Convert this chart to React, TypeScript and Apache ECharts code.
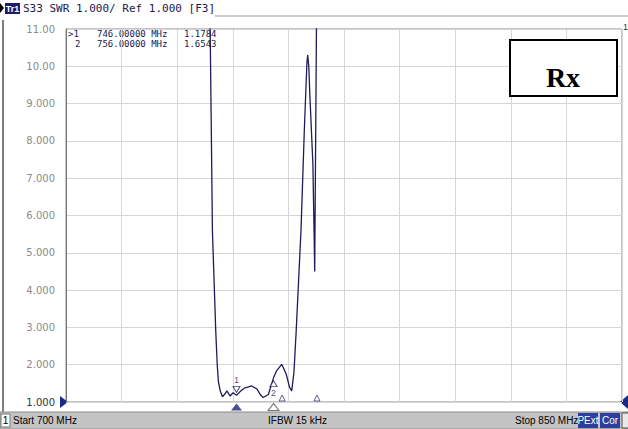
import React, { useEffect, useRef } from "react";
import * as echarts from "echarts";

// ---- data ----
const startFreq = 700;
const stopFreq = 850;
const freqMHz = [700, 738.5, 738.9, 739.2, 739.5, 740.4, 740.8, 741.1, 741.6, 742.2, 742.9, 743.4, 744.3, 745.1, 746.0, 747.2, 748.3, 750.1, 751.5, 752.4, 753.2, 754.6, 756.0, 756.9, 758.2, 759.4, 760.3, 760.9, 761.5, 762.1, 763.4, 764.3, 765.0, 765.2, 765.5, 765.8, 766.6, 767.0, 767.1, 767.6, 768.0, 850];
const swr = [14, 11.6, 10.9, 8.3, 5.6, 2.9, 2.0, 1.56, 1.3, 1.14, 1.22, 1.3, 1.16, 1.25, 1.1784, 1.3, 1.38, 1.43, 1.35, 1.2, 1.12, 1.2, 1.6543, 1.85, 2.01, 1.75, 1.4, 1.3, 1.8, 2.9, 5.6, 8.3, 10.1, 10.3, 10.0, 9.2, 7.4, 5.1, 4.5, 11.5, 14, 14];
const markerFreqs = [746, 756];
const markerValues = [1.1784, 1.6543];
const markerFreqText = ["746.00000 MHz", "756.00000 MHz"];
const markerValText = ["1.1784", "1.6543"];
const smallMarkerFreqs = [758.3, 767.7];
const yMin = 1;
const yMax = 11;

const TRACE = "#1c1c5a";
const BLUE = "#1a237e";

function yLabel(v: number) {
  return v >= 10 ? v.toFixed(2) : v.toFixed(3);
}

export default function App() {
  const ref = useRef<HTMLDivElement>(null);
  useEffect(() => {
    const chart = echarts.init(ref.current!, null, { renderer: "svg" });
    const traceData = freqMHz.map((f, i) => [f - startFreq, swr[i]]);
    const mono = "DejaVu Sans Mono";
    const sans = "Liberation Sans";
    const option: any = {
      animation: false,
      backgroundColor: "#ffffff",
      grid: { left: 66, right: 6, top: 29, bottom: 27, show: true, borderColor: "#8a8a8a", borderWidth: 1, backgroundColor: "#fff" },
      xAxis: {
        type: "value",
        min: 0,
        max: stopFreq - startFreq,
        interval: 15,
        axisLabel: { show: false },
        axisTick: { show: false },
        axisLine: { show: false },
        splitLine: { show: true, lineStyle: { color: "#d6d6d6", width: 1 } },
      },
      yAxis: {
        type: "value",
        min: yMin,
        max: yMax,
        interval: 1,
        axisLabel: {
          formatter: (v: number) => yLabel(v),
          color: (v: any) => (Number(v) === 1 ? "#333" : "#8a8a8a"),
          fontSize: 10,
          fontFamily: "DejaVu Sans",
          margin: 11,
        },
        axisTick: { show: false },
        axisLine: { show: true, lineStyle: { color: "#777", width: 1 } },
        splitLine: { show: true, lineStyle: { color: "#d6d6d6", width: 1 } },
      },
      series: [
        {
          type: "line",
          data: traceData,
          showSymbol: false,
          clip: true,
          lineStyle: { color: TRACE, width: 1.3 },
          z: 3,
        },
        {
          type: "scatter",
          clip: false,
          data: [[markerFreqs[0] - startFreq, markerValues[0]]],
          symbol: "triangle",
          symbolRotate: 180,
          symbolSize: [7, 6],
          symbolOffset: [0, -6],
          itemStyle: { color: "#fff", borderColor: TRACE, borderWidth: 1 },
          label: { show: true, formatter: "1", position: "top", distance: 1, fontSize: 9, color: TRACE, fontFamily: sans },
          z: 4,
        },
        {
          type: "scatter",
          clip: false,
          data: [[markerFreqs[1] - startFreq, markerValues[1]]],
          symbol: "triangle",
          symbolSize: [7, 6],
          symbolOffset: [0, 6],
          itemStyle: { color: "#fff", borderColor: TRACE, borderWidth: 1 },
          label: { show: true, formatter: "2", position: "bottom", distance: 1, fontSize: 9, color: TRACE, fontFamily: sans },
          z: 4,
        },
        {
          type: "scatter",
          clip: false,
          data: [[markerFreqs[0] - startFreq, yMin]],
          symbol: "triangle",
          symbolSize: [11, 7],
          symbolOffset: [0, 5],
          itemStyle: { color: BLUE },
          z: 4,
        },
        {
          type: "scatter",
          clip: false,
          data: [[markerFreqs[1] - startFreq, yMin]],
          symbol: "triangle",
          symbolSize: [11, 7],
          symbolOffset: [0, 5],
          itemStyle: { color: "#fff", borderColor: "#555", borderWidth: 1 },
          z: 4,
        },
        {
          type: "scatter",
          clip: false,
          data: smallMarkerFreqs.map((f) => [f - startFreq, yMin]),
          symbol: "triangle",
          symbolSize: [6, 6],
          symbolOffset: [0, -4],
          itemStyle: { color: "#fff", borderColor: "#3a3a7a", borderWidth: 1 },
          z: 4,
        },
      ],
      graphic: [
        // header
        { type: "polygon", shape: { points: [[0, 3], [4, 8], [0, 13]] }, style: { fill: "#000" } },
        { type: "rect", shape: { x: 5, y: 3, width: 15, height: 11 }, style: { fill: "#1c1c6e" } },
        { type: "text", x: 12.5, y: 8.5, style: { text: "Tr1", fill: "#fff", font: "bold 9px " + sans, align: "center", verticalAlign: "middle" } },
        { type: "text", x: 23, y: 8.5, style: { text: "S33 SWR 1.000/ Ref 1.000 [F3]", fill: "#202050", font: "11px " + mono, verticalAlign: "middle" } },
        { type: "line", shape: { x1: 215, y1: 16, x2: 628, y2: 16 }, style: { stroke: "#9a9a9a", lineWidth: 1 } },
        // frame
        { type: "line", shape: { x1: 3, y1: 20, x2: 3, y2: 412 }, style: { stroke: "#555", lineWidth: 1.5 } },
        // readout
        { type: "text", x: 68, y: 34, style: { text: ">1", fill: "#202050", font: "9px " + mono, verticalAlign: "middle" } },
        { type: "text", x: 97, y: 34, style: { text: markerFreqText[0], fill: "#202050", font: "9px " + mono, verticalAlign: "middle" } },
        { type: "text", x: 184, y: 34, style: { text: markerValText[0], fill: "#202050", font: "9px " + mono, verticalAlign: "middle" } },
        { type: "text", x: 75, y: 44, style: { text: "2", fill: "#202050", font: "9px " + mono, verticalAlign: "middle" } },
        { type: "text", x: 97, y: 44, style: { text: markerFreqText[1], fill: "#202050", font: "9px " + mono, verticalAlign: "middle" } },
        { type: "text", x: 184, y: 44, style: { text: markerValText[1], fill: "#202050", font: "9px " + mono, verticalAlign: "middle" } },
        // ref-level markers
        { type: "text", x: 623, y: 27, style: { text: "1", fill: "#333", font: "9px " + sans, verticalAlign: "middle" } },
        { type: "polygon", shape: { points: [[60, 396], [68, 402], [60, 408]] }, style: { fill: "#1a2a8a" } },
        { type: "polygon", shape: { points: [[628, 395], [620, 402], [628, 409]] }, style: { fill: "#1a2a8a" } },
        // Rx box
        { type: "rect", shape: { x: 510, y: 40, width: 107, height: 56 }, style: { fill: "#fff", stroke: "#000", lineWidth: 2 }, z: 10 },
        { type: "text", x: 563, y: 77, style: { text: "Rx", fill: "#000", font: "bold 28px 'Liberation Serif'", align: "center", verticalAlign: "middle" }, z: 11 },
        // status bar
        { type: "rect", shape: { x: 0, y: 412, width: 628, height: 17 }, style: { fill: "#c4c4c4", stroke: "#8a8a8a", lineWidth: 1 } },
        { type: "rect", shape: { x: 1, y: 414, width: 9, height: 13 }, style: { fill: "#fff", stroke: "#777", lineWidth: 1 } },
        { type: "text", x: 5.5, y: 420.5, style: { text: "1", fill: "#000", font: "10px " + sans, align: "center", verticalAlign: "middle" } },
        { type: "text", x: 13, y: 420.5, style: { text: "Start 700 MHz", fill: "#000", font: "10px " + sans, verticalAlign: "middle" } },
        { type: "text", x: 268, y: 420.5, style: { text: "IFBW 15 kHz", fill: "#000", font: "10px " + sans, verticalAlign: "middle" } },
        { type: "text", x: 515, y: 420.5, style: { text: "Stop 850 MHz", fill: "#000", font: "10px " + sans, verticalAlign: "middle" } },
        { type: "rect", shape: { x: 578, y: 413, width: 20, height: 15 }, style: { fill: "#2b3f9e" } },
        { type: "text", x: 588, y: 420.5, style: { text: "PExt", fill: "#fff", font: "10px " + sans, align: "center", verticalAlign: "middle" } },
        { type: "rect", shape: { x: 600, y: 413, width: 20, height: 15 }, style: { fill: "#2b3f9e" } },
        { type: "text", x: 610, y: 420.5, style: { text: "Cor", fill: "#fff", font: "10px " + sans, align: "center", verticalAlign: "middle" } },
        { type: "rect", shape: { x: 622, y: 413, width: 8, height: 15 }, style: { fill: "#e8e8e8", stroke: "#555", lineWidth: 1 } },
      ],
    };
    chart.setOption(option);
    return () => chart.dispose();
  }, []);
  return <div ref={ref} style={{ position: "fixed", left: 0, top: 0, width: 628, height: 429, background: "#fff" }} />;
}
